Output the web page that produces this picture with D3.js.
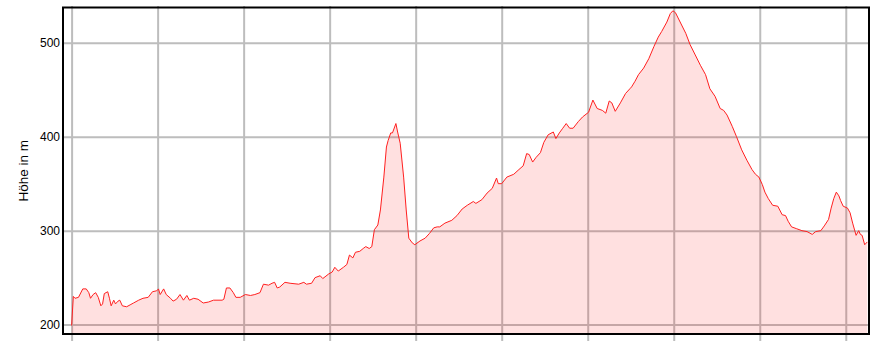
<!DOCTYPE html>
<html>
<head>
<meta charset="utf-8">
<script src="https://cdn.jsdelivr.net/npm/d3@7"></script>
<style>
  body { margin: 0; background: #fff; }
  svg { display: block; font-family: "Liberation Sans", Arial, sans-serif; }
</style>
</head>
<body>
<div id="vis"></div>
<script>
// Distance along the route (km) and elevation (m)
const DIST = [
  0.00, 0.02, 0.04, 0.08, 0.13, 0.17, 0.20, 0.22, 0.25, 0.28, 0.31, 0.34, 0.36, 0.38, 0.42, 0.44,
  0.46, 0.49, 0.51, 0.54, 0.56, 0.59, 0.64, 0.68, 0.72, 0.78, 0.83, 0.89, 0.94, 0.99, 1.01, 1.03,
  1.07, 1.10, 1.15, 1.18, 1.22, 1.26, 1.30, 1.34, 1.37, 1.42, 1.47, 1.53, 1.59, 1.65, 1.75, 1.77,
  1.80, 1.84, 1.88, 1.91, 1.96, 2.02, 2.08, 2.13, 2.19, 2.23, 2.29, 2.33, 2.36, 2.39, 2.42, 2.48,
  2.54, 2.64, 2.70, 2.73, 2.79, 2.83, 2.89, 2.92, 2.99, 3.03, 3.06, 3.10, 3.16, 3.20, 3.23, 3.27,
  3.30, 3.35, 3.39, 3.42, 3.46, 3.49, 3.52, 3.56, 3.59, 3.63, 3.66, 3.68, 3.71, 3.73, 3.77, 3.79,
  3.82, 3.86, 3.89, 3.92, 3.96, 3.99, 4.05, 4.11, 4.16, 4.21, 4.25, 4.28, 4.34, 4.42, 4.48, 4.54,
  4.60, 4.67, 4.70, 4.77, 4.83, 4.89, 4.94, 4.96, 5.00, 5.06, 5.14, 5.20, 5.25, 5.29, 5.32, 5.36,
  5.40, 5.45, 5.49, 5.54, 5.60, 5.63, 5.67, 5.71, 5.75, 5.79, 5.83, 5.89, 5.94, 6.01, 6.06, 6.11,
  6.17, 6.21, 6.25, 6.28, 6.32, 6.38, 6.44, 6.49, 6.51, 6.55, 6.59, 6.65, 6.71, 6.77, 6.82, 6.86,
  6.92, 6.96, 6.99, 7.02, 7.08, 7.14, 7.19, 7.25, 7.31, 7.37, 7.42, 7.48, 7.54, 7.58, 7.62, 7.68,
  7.73, 7.79, 7.85, 7.91, 7.95, 7.99, 8.03, 8.06, 8.10, 8.15, 8.21, 8.26, 8.30, 8.33, 8.37, 8.43,
  8.49, 8.55, 8.61, 8.65, 8.71, 8.75, 8.80, 8.83, 8.86, 8.89, 8.92, 8.94, 8.97, 9.02, 9.05, 9.08,
  9.12, 9.15, 9.17, 9.19, 9.22, 9.25
];
const ELEV = [
  199, 230, 228, 229, 238, 238, 234, 228, 232, 234, 229, 220, 222, 233, 235, 228,
  220, 226, 222, 225, 226, 220, 219, 221, 223, 226, 228, 229, 235, 236, 238, 232,
  238, 232, 228, 225, 227, 232, 226, 231, 226, 228, 227, 223, 224, 226, 226, 227,
  239, 239, 234, 229, 229, 232, 231, 232, 234, 243, 242, 244, 245, 239, 240, 245,
  244, 243, 245, 243, 244, 250, 252, 249, 254, 256, 261, 257, 261, 264, 274, 271,
  277, 278, 281, 283, 281, 283, 301, 306, 322, 357, 389, 396, 404, 404, 414, 405,
  393, 357, 322, 292, 287, 285, 289, 292, 297, 303, 304, 304, 308, 311, 316, 323,
  327, 331, 329, 333, 340, 345, 356, 350, 350, 357, 360, 365, 369, 382, 381, 373,
  378, 383, 394, 402, 405, 398, 404, 409, 414, 409, 409, 416, 421, 426, 439, 430,
  428, 425, 438, 436, 427, 436, 446, 451, 453, 459, 466, 473, 483, 496, 506, 512,
  522, 531, 534, 532, 521, 510, 498, 487, 476, 466, 451, 443, 430, 428, 423, 411,
  400, 386, 375, 365, 360, 357, 349, 341, 334, 327, 326, 317, 316, 310, 304, 302,
  300, 299, 296, 299, 300, 305, 312, 324, 334, 341, 337, 332, 326, 324, 319, 308,
  295, 300, 296, 295, 285, 288
];
const X_TICKS = [0, 1, 2, 3, 4, 5, 6, 7, 8, 9];
const Y_TICKS = [200, 300, 400, 500];
const Y_LABEL = "Höhe in m";

const FRAME_WIDTH = 878;
const FRAME_HEIGHT = 341;
const PLOT = {left: 63, right: 869, top: 7.5, bottom: 334};

const data = DIST.map((d, i) => ({km: d, m: ELEV[i]}));

const svg = d3.select("#vis")
  .append("svg")
    .attr("width", FRAME_WIDTH)
    .attr("height", FRAME_HEIGHT);

// Scales: domain padded a little past the data like the original
const X_SCALE = d3.scaleLinear()
  .domain([-0.1, 9.27])
  .range([PLOT.left, PLOT.right]);

const Y_SCALE = d3.scaleLinear()
  .domain([190, 537.5])
  .range([PLOT.bottom, PLOT.top]);

// Vertical grid lines (run a little past the frame on both ends)
const xGrid = svg.append("g")
  .attr("transform", "translate(0," + (FRAME_HEIGHT + 4) + ")")
  .call(d3.axisBottom(X_SCALE)
    .tickValues(X_TICKS)
    .tickSize(-(FRAME_HEIGHT + 4 - 6))
    .tickFormat(""));
xGrid.select(".domain").remove();
xGrid.selectAll(".tick line")
  .attr("stroke", "#bdbdbd")
  .attr("stroke-width", 2);

// Y axis with horizontal grid lines
const yAxis = svg.append("g")
  .attr("transform", "translate(" + PLOT.left + ",0)")
  .call(d3.axisLeft(Y_SCALE)
    .tickValues(Y_TICKS)
    .tickSize(-(PLOT.right - PLOT.left + 1))
    .tickPadding(3));
yAxis.select(".domain").remove();
yAxis.selectAll(".tick line")
  .attr("stroke", "#bdbdbd")
  .attr("stroke-width", 2);
yAxis.selectAll(".tick text")
  .attr("font-size", "12px")
  .attr("font-family", "'Liberation Sans', Arial, sans-serif")
  .attr("fill", "#000");

// Filled area under the profile
const area = d3.area()
  .x((d) => X_SCALE(d.km))
  .y0(PLOT.bottom)
  .y1((d) => Y_SCALE(d.m));

svg.append("path")
  .datum(data)
  .attr("d", area)
  .attr("fill", "rgba(255, 0, 0, 0.12)");

// Profile line
const line = d3.line()
  .x((d) => X_SCALE(d.km))
  .y((d) => Y_SCALE(d.m));

svg.append("path")
  .datum(data)
  .attr("d", line)
  .attr("fill", "none")
  .attr("stroke", "#ff2020")
  .attr("stroke-width", 1);

// Frame around the plot
svg.append("rect")
  .attr("x", PLOT.left)
  .attr("y", PLOT.top)
  .attr("width", PLOT.right - PLOT.left)
  .attr("height", PLOT.bottom - PLOT.top)
  .attr("fill", "none")
  .attr("stroke", "#000")
  .attr("stroke-width", 2);

// Y axis title
svg.append("text")
  .attr("transform", "translate(28," + ((PLOT.top + PLOT.bottom) / 2) + ") rotate(-90)")
  .attr("text-anchor", "middle")
  .attr("font-size", "13.5px")
  .text(Y_LABEL);
</script>
</body>
</html>
